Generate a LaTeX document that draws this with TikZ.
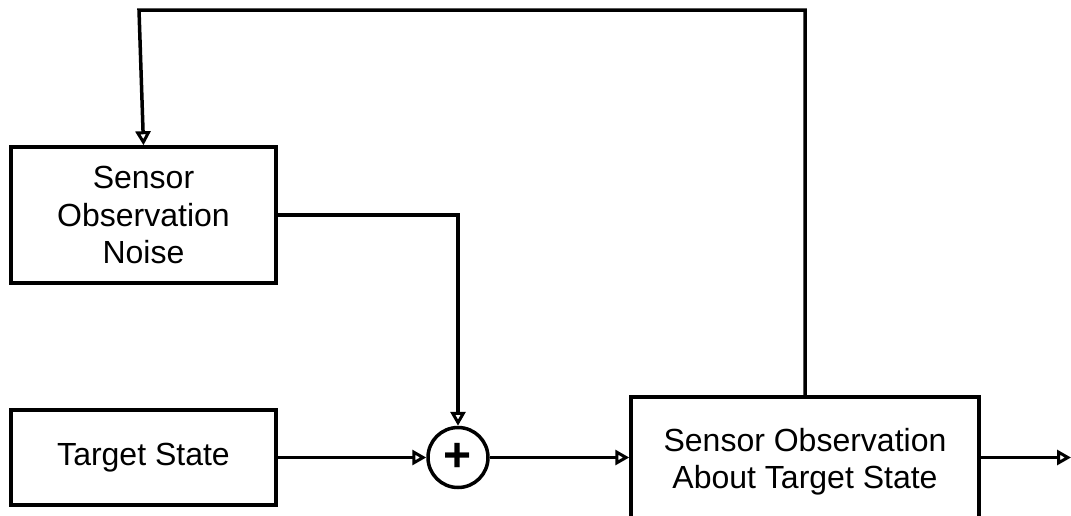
\documentclass[tikz,border=0pt]{standalone}
\usepackage{fontspec}
\setmainfont{Liberation Sans}
\usetikzlibrary{arrows.meta}
\begin{document}
\begin{tikzpicture}[x=1pt,y=-1pt,
  blk/.style={draw,line width=3.5pt,inner sep=0pt,align=center,font=\fontsize{32}{37.5}\selectfont},
  conn/.style={line width=3.5pt,-{Triangle[open,length=14pt,width=15pt,line width=3pt]}},
  ln/.style={line width=3.5pt}]
\useasboundingbox (0,0) rectangle (1071,515);
\node[blk,minimum width=265pt,minimum height=136pt] (noise) at (143.5,215) {Sensor\\Observation\\Noise};
\node[blk,minimum width=265pt,minimum height=95pt] (target) at (143.5,457.5) {Target State};
\node[draw,circle,line width=3.5pt,minimum size=60pt,inner sep=0pt,font=\fontsize{48}{48}\selectfont\bfseries] (sum) at (458,457.5) {+};
\node[blk,minimum width=348pt,minimum height=130pt,anchor=north] (obs) at (805,395) {Sensor Observation\\About Target State};
\coordinate (tr) at (805,10);
\coordinate (tl) at (139,10);
\coordinate (out) at (1071,457.5);
\draw[conn] (obs.north) -- (tr) -- (tl) -- (noise.north);
\draw[conn] (noise.east) -| (sum.north);
\draw[conn] (target.east) -- (sum.west);
\draw[conn] (sum.east) -- (sum.east -| obs.west);
\draw[conn] (sum.east -| obs.east) -- (out);
\end{tikzpicture}
\end{document}
